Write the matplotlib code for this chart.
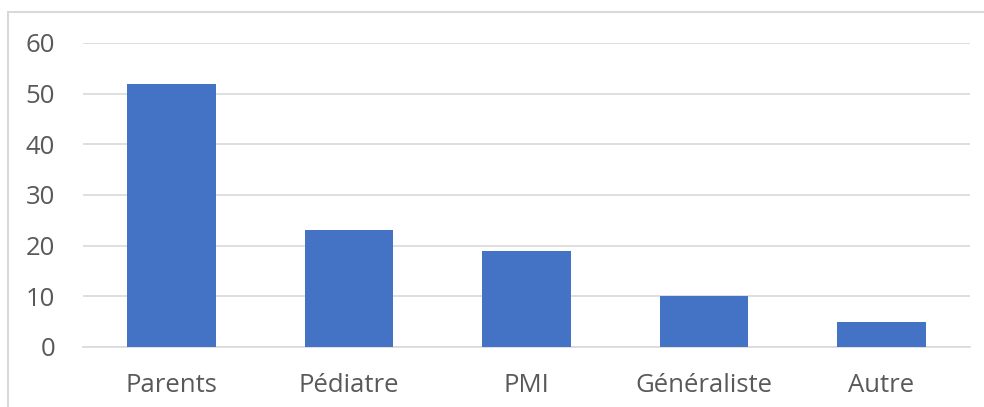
import matplotlib.pyplot as plt
from matplotlib.patches import Rectangle

# donnees
categories = ["Parents", "Pédiatre", "PMI", "Généraliste", "Autre"]
valeurs = [52, 23, 19, 10, 5]
yticks = [0, 10, 20, 30, 40, 50, 60]

plt.rcParams['font.family'] = ['Open Sans', 'DejaVu Sans']

fig = plt.figure(figsize=(9.84, 4.07), dpi=100)
ax = fig.add_axes([83 / 984, 1 - 347 / 407, (970 - 83) / 984, (347 - 43) / 407])

x = range(len(categories))
ax.bar(x, valeurs, width=0.5, color='#4472C4', zorder=3)

ax.set_xlim(-0.5, len(categories) - 0.5)
ax.set_ylim(0, 60)
ax.set_yticks(yticks)
ax.set_xticks(list(x))
ax.set_xticklabels(categories)
ax.grid(axis='y', color='#D9D9D9', linewidth=1.2, zorder=0)
ax.tick_params(length=0, labelsize=18.5, colors='#595959')
ax.tick_params(axis='y', pad=20)
ax.tick_params(axis='x', pad=19)
for s in ['top', 'right', 'left']:
    ax.spines[s].set_visible(False)
ax.spines['bottom'].set_color('#D9D9D9')
ax.spines['bottom'].set_linewidth(1.2)

# cadre du graphique (coupe a droite et en bas)
fig.patches.append(Rectangle((8 / 984, -0.1), 1.2, 1.1 - 12 / 407, transform=fig.transFigure,
                             fill=False, edgecolor='#D9D9D9', linewidth=1.5))

fig.savefig('out.png', dpi=100)
